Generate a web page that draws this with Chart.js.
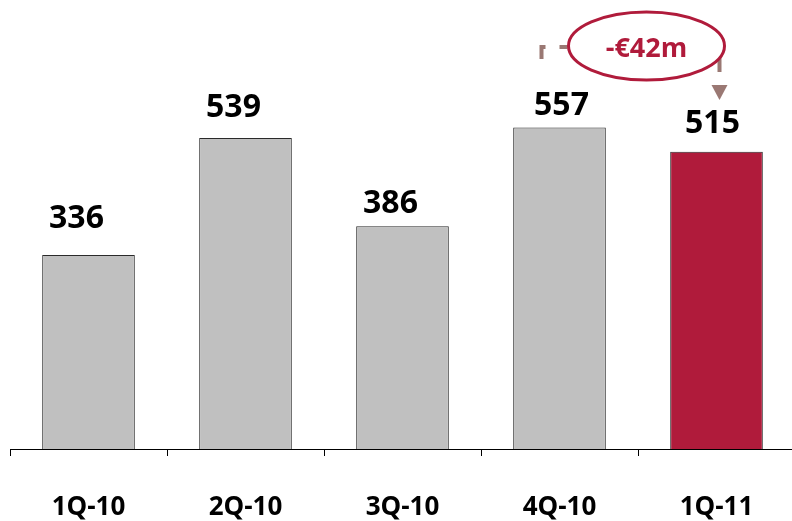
<!DOCTYPE html>
<html>
<head>
<meta charset="utf-8">
<script src="https://cdn.jsdelivr.net/npm/chart.js@4/dist/chart.umd.min.js"></script>
<style>
  html, body { margin: 0; padding: 0; background: #fff; overflow: hidden; }
  canvas { display: block; }
</style>
</head>
<body>
<canvas id="chart" width="805" height="521"></canvas>
<script>
// Trimestres y valores (millones de euros)
const quarters = ["1Q-10", "2Q-10", "3Q-10", "4Q-10", "1Q-11"];
const values = [336, 539, 386, 557, 515];
const changeLabel = "-€42m";

// Colores
const grayFill = '#c0c0c0';
const redFill = '#b01b3b';
const bracketColor = '#9a7873';

// Ajuste fino de las etiquetas de valor (px)
const labelDx = [-12, -12, -12, 2, -4];
const labelGap = [27, 21, 13, 13, 19];

const fontFamily = "'Open Sans', 'DejaVu Sans', sans-serif";

// Etiquetas de valor encima de cada barra + anotación de variación
const annotatePlugin = {
  id: 'annotate',
  afterDatasetsDraw(chart) {
    const ctx = chart.ctx;
    const meta = chart.getDatasetMeta(0);
    ctx.save();
    ctx.fillStyle = '#000';
    ctx.font = "bold 32px " + fontFamily;
    ctx.textAlign = 'center';
    ctx.textBaseline = 'alphabetic';
    meta.data.forEach((bar, i) => {
      ctx.fillText(String(values[i]), bar.x + labelDx[i], bar.y - labelGap[i]);
    });

    // Corchete de 4Q-10 a 1Q-11
    const xs = chart.scales.x;
    const xL = xs.getPixelForValue(3) - 18;
    const xR = xs.getPixelForValue(4) + 3;
    const yTop = 47;
    ctx.strokeStyle = bracketColor;
    ctx.lineWidth = 4;
    ctx.beginPath();
    ctx.moveTo(xL, 59);
    ctx.lineTo(xL, yTop - 2);
    ctx.moveTo(xL - 2, yTop);
    ctx.lineTo(xL + 4, yTop);
    ctx.moveTo(xR, 56);
    ctx.lineTo(xR, 72);
    ctx.stroke();
    ctx.setLineDash([8, 10]);
    ctx.beginPath();
    ctx.moveTo(xL + 18, yTop);
    ctx.lineTo(xR, yTop);
    ctx.stroke();
    ctx.setLineDash([]);
    ctx.fillStyle = bracketColor;
    ctx.beginPath();
    ctx.moveTo(xR - 8, 85);
    ctx.lineTo(xR + 8, 85);
    ctx.lineTo(xR, 100);
    ctx.closePath();
    ctx.fill();

    // Elipse con la variación
    const cx = (xL + xR) / 2 + 16;
    ctx.fillStyle = '#fff';
    ctx.strokeStyle = redFill;
    ctx.lineWidth = 3;
    ctx.beginPath();
    ctx.ellipse(cx, 46, 78, 34, 0, 0, Math.PI * 2);
    ctx.fill();
    ctx.stroke();
    ctx.fillStyle = redFill;
    ctx.font = "bold 27px " + fontFamily;
    ctx.textBaseline = 'middle';
    ctx.fillText(changeLabel, cx, 49);
    ctx.restore();
  }
};

new Chart(document.getElementById('chart'), {
  type: 'bar',
  data: {
    labels: quarters,
    datasets: [{
      data: values,
      backgroundColor: values.map((v, i) => i === values.length - 1 ? redFill : grayFill),
      borderColor: '#2a2a2a',
      borderWidth: 1,
      borderSkipped: 'bottom',
      categoryPercentage: 1,
      barPercentage: 0.59
    }]
  },
  options: {
    responsive: false,
    animation: false,
    layout: { padding: { left: 10, right: 10, top: 0, bottom: 0 } },
    plugins: { legend: { display: false }, tooltip: { enabled: false } },
    scales: {
      x: {
        offset: true,
        afterFit: scale => { scale.height = 72; },
        grid: {
          offset: true,
          drawOnChartArea: false,
          drawTicks: true,
          tickLength: 7,
          color: '#000',
          lineWidth: 1
        },
        border: { display: true, color: '#000', width: 1 },
        ticks: {
          color: '#000',
          padding: 36,
          maxRotation: 0,
          minRotation: 0,
          autoSkip: false,
          font: { family: fontFamily, size: 26, weight: 'bold' }
        }
      },
      y: {
        display: false,
        min: 0,
        max: 778
      }
    }
  },
  plugins: [annotatePlugin]
});
</script>
</body>
</html>
